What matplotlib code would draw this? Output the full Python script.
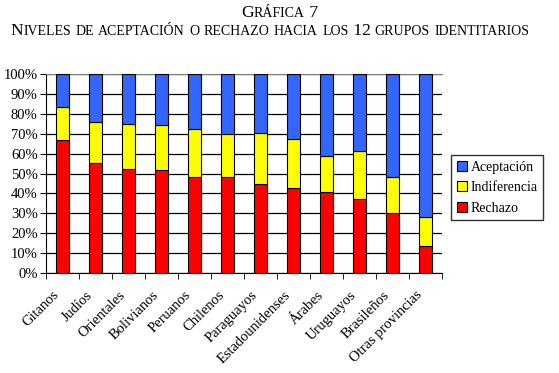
import itertools
import numpy as np
import matplotlib
matplotlib.use('Agg')
import matplotlib.pyplot as plt
import matplotlib.transforms as mtransforms

# DATA ------------------------------------------------------------------------
grupos = ['Gitanos', 'Judíos', 'Orientales', 'Bolivianos', 'Peruanos', 'Chilenos',
          'Paraguayos', 'Estadounidenses', 'Árabes', 'Uruguayos', 'Brasileños',
          'Otras provincias']
rechazo = [66.8, 55.3, 52.3, 51.8, 48.4, 48.2, 44.7, 42.7, 40.7, 37.2, 30.2, 13.6]
indiferencia = [16.5, 20.6, 22.6, 22.6, 24.0, 21.6, 25.7, 24.6, 17.9, 23.9, 18.0, 14.5]
aceptacion = [100 - r - i for r, i in zip(rechazo, indiferencia)]
y_ticks = list(range(0, 101, 10))

serif = 'Liberation Serif'
plt.rcParams['font.family'] = serif

fig = plt.figure(figsize=(5.59, 3.73), dpi=100)
ax = fig.add_axes([0.0823, 0.268, 0.7087, 0.5336])

x = np.arange(len(grupos))
w = 0.4
ax.bar(x, rechazo, w, color='#FF0000', edgecolor='black', linewidth=0.8, label='Rechazo', zorder=3)
ax.bar(x, indiferencia, w, bottom=rechazo, color='#FFFF00', edgecolor='black', linewidth=0.8,
       label='Indiferencia', zorder=3)
bott = [r + i for r, i in zip(rechazo, indiferencia)]
ax.bar(x, aceptacion, w, bottom=bott, color='#3366FF', edgecolor='black', linewidth=0.8,
       label='Aceptación', zorder=3)

ax.set_xlim(-0.5, len(grupos) - 0.5)
ax.set_ylim(0, 100)
ax.set_yticks(y_ticks)
ax.set_yticklabels(['%d%%' % v for v in y_ticks], fontsize=10.5)
ax.yaxis.grid(True, color='black', linewidth=0.9, zorder=0)
ax.set_axisbelow(True)

ax.set_xticks(x)
ax.set_xticklabels(grupos, rotation=45, ha='right', rotation_mode='anchor', fontsize=10.5)
ax.tick_params(axis='x', length=0, pad=11)
shift = mtransforms.ScaledTranslation(-10 / 100, 0, fig.dpi_scale_trans)
for lab in ax.get_xticklabels():
    lab.set_transform(lab.get_transform() + shift)
ax.set_xticks(np.arange(-0.5, len(grupos)), minor=True)
ax.tick_params(axis='x', which='minor', length=4, direction='out', color='black')
ax.tick_params(axis='y', length=4, direction='out', pad=2)

ax.spines['right'].set_visible(False)
ax.spines['top'].set_color('gray')

h, l = ax.get_legend_handles_labels()
leg = fig.legend(h[::-1], l[::-1], loc='upper left', bbox_to_anchor=(0.795, 0.603),
                 fontsize=10, frameon=True, fancybox=False, edgecolor='black',
                 handlelength=0.7, handleheight=0.7, handletextpad=0.3,
                 labelspacing=0.55, borderpad=0.4)
leg.get_frame().set_linewidth(1.0)


# TITLE IN SMALL CAPS ---------------------------------------------------------
def small_caps(xc, y, s, big, small):
    texts = []
    for low, run in itertools.groupby(s, key=lambda c: c.islower()):
        run = ''.join(run)
        t = fig.text(0, y, run.upper() if low else run,
                     fontsize=small if low else big, va='baseline', family=serif)
        texts.append(t)
    fig.canvas.draw()
    r = fig.canvas.get_renderer()
    widths = [t.get_window_extent(r).width / fig.bbox.width for t in texts]
    pos = xc - sum(widths) / 2
    for t, wd in zip(texts, widths):
        t.set_x(pos)
        pos += wd


small_caps(0.5, 0.955, 'Gráfica 7', 12.6, 10)
small_caps(0.483, 0.905, 'Niveles de aceptación o rechazo hacia los 12 grupos identitarios', 12.6, 10)

fig.savefig('out.png', dpi=100)
